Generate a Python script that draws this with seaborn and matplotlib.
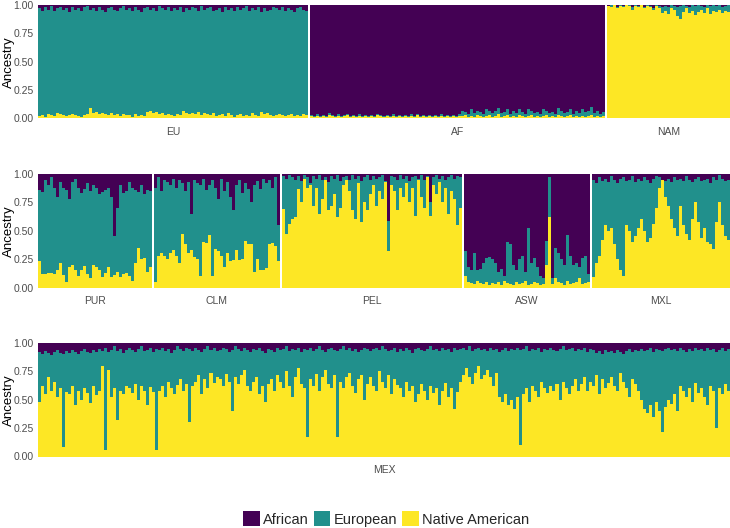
import numpy as np
import pandas as pd
import matplotlib
matplotlib.use("Agg")
import matplotlib.pyplot as plt
from matplotlib.patches import Patch
import seaborn as sns

# ancestry proportions per individual
# (native = yellow share, african = purple share, european = the rest)
groups = ["African", "European", "Native American"]
palette = {"African": "#440154", "European": "#21908C", "Native American": "#FDE725"}

eu_nat = [0.02, 0.03, 0.01, 0.04, 0.03, 0.02, 0.05, 0.04, 0.03, 0.02,
          0.03, 0.04, 0.03, 0.02, 0.01, 0.03, 0.04, 0.09, 0.05, 0.06,
          0.04, 0.05, 0.04, 0.03, 0.05, 0.03, 0.04, 0.02, 0.04, 0.03,
          0.03, 0.01, 0.04, 0.02, 0.03, 0.02, 0.06, 0.07, 0.05, 0.06,
          0.04, 0.05, 0.03, 0.04, 0.03, 0.02, 0.04, 0.03, 0.07, 0.05,
          0.04, 0.05, 0.04, 0.06, 0.03, 0.05, 0.04, 0.03, 0.05, 0.02,
          0.03, 0.04, 0.02, 0.05, 0.03, 0.01, 0.03, 0.04, 0.02, 0.03,
          0.02, 0.05, 0.03, 0.02, 0.06, 0.04, 0.05, 0.03, 0.02, 0.03,
          0.04, 0.03, 0.02, 0.03, 0.04, 0.02, 0.03, 0.02, 0.04, 0.03]
eu_afr = [0.03, 0.05, 0.02, 0.04, 0.01, 0.05, 0.03, 0.02, 0.04, 0.03,
          0.06, 0.02, 0.04, 0.03, 0.05, 0.02, 0.01, 0.04, 0.03, 0.05,
          0.02, 0.04, 0.06, 0.03, 0.02, 0.04, 0.05, 0.03, 0.01, 0.04,
          0.03, 0.05, 0.02, 0.04, 0.06, 0.03, 0.02, 0.04, 0.03, 0.05,
          0.01, 0.03, 0.04, 0.02, 0.05, 0.03, 0.04, 0.02, 0.06, 0.03,
          0.04, 0.02, 0.03, 0.05, 0.01, 0.04, 0.03, 0.02, 0.05, 0.04,
          0.03, 0.06, 0.02, 0.04, 0.03, 0.05, 0.02, 0.04, 0.03, 0.01,
          0.05, 0.03, 0.04, 0.02, 0.06, 0.03, 0.05, 0.04, 0.02, 0.03,
          0.04, 0.02, 0.05, 0.03, 0.04, 0.06, 0.03, 0.02, 0.04, 0.05]

af_nat = [0.02, 0.01, 0.02, 0.01, 0.02, 0.01, 0.03, 0.02, 0.01, 0.02,
          0.01, 0.02, 0.03, 0.01, 0.02, 0.01, 0.02, 0.01, 0.02, 0.01,
          0.02, 0.01, 0.03, 0.02, 0.01, 0.02, 0.01, 0.02, 0.01, 0.02,
          0.01, 0.02, 0.01, 0.02, 0.01, 0.03, 0.01, 0.02, 0.01, 0.02,
          0.01, 0.02, 0.01, 0.02, 0.01, 0.02, 0.01, 0.02, 0.01, 0.02,
          0.02, 0.03, 0.01, 0.02, 0.01, 0.03, 0.02, 0.01, 0.02, 0.03,
          0.01, 0.02, 0.04, 0.01, 0.02, 0.03, 0.01, 0.02, 0.01, 0.03,
          0.02, 0.01, 0.02, 0.03, 0.01, 0.02, 0.01, 0.02, 0.03, 0.01,
          0.02, 0.01, 0.03, 0.02, 0.01, 0.02, 0.03, 0.01, 0.02, 0.01,
          0.02, 0.01, 0.02, 0.03, 0.01, 0.02, 0.01, 0.02]
af_afr = [0.97, 0.98, 0.96, 0.98, 0.97, 0.98, 0.95, 0.97, 0.98, 0.96,
          0.98, 0.97, 0.96, 0.98, 0.97, 0.98, 0.96, 0.98, 0.97, 0.98,
          0.97, 0.98, 0.96, 0.97, 0.98, 0.97, 0.98, 0.96, 0.98, 0.97,
          0.98, 0.97, 0.98, 0.96, 0.98, 0.96, 0.98, 0.97, 0.98, 0.97,
          0.98, 0.97, 0.98, 0.96, 0.98, 0.97, 0.98, 0.97, 0.98, 0.96,
          0.93, 0.94, 0.96, 0.92, 0.95, 0.93, 0.94, 0.96, 0.92, 0.93,
          0.95, 0.93, 0.91, 0.95, 0.94, 0.92, 0.96, 0.93, 0.95, 0.92,
          0.94, 0.96, 0.92, 0.93, 0.95, 0.94, 0.96, 0.92, 0.93, 0.95,
          0.94, 0.96, 0.91, 0.93, 0.95, 0.94, 0.92, 0.96, 0.93, 0.95,
          0.92, 0.94, 0.93, 0.90, 0.95, 0.93, 0.96, 0.94]

nam_nat = [0.99, 0.98, 1.00, 0.97, 0.99, 0.98, 1.00, 0.99, 0.96, 0.99,
           0.98, 1.00, 0.97, 0.99, 0.98, 0.96, 0.99, 0.97, 0.93, 0.95,
           0.92, 0.97, 0.96, 0.90, 0.88, 0.94, 0.97, 0.93, 0.95, 0.91,
           0.94, 0.96, 0.93, 0.97, 0.92, 0.95, 0.94, 0.96, 0.93, 0.95, 0.94]
nam_afr = [0.01, 0.00, 0.00, 0.02, 0.00, 0.01, 0.00, 0.00, 0.02, 0.00,
           0.01, 0.00, 0.02, 0.00, 0.01, 0.03, 0.00, 0.01, 0.02, 0.01,
           0.02, 0.00, 0.01, 0.02, 0.01, 0.00, 0.01, 0.02, 0.00, 0.01,
           0.00, 0.01, 0.02, 0.00, 0.01, 0.00, 0.01, 0.00, 0.02, 0.01, 0.00]

pur_nat = [0.23, 0.12, 0.12, 0.13, 0.13, 0.12, 0.15, 0.22, 0.11, 0.05,
           0.18, 0.20, 0.15, 0.10, 0.15, 0.19, 0.12, 0.08, 0.20, 0.18,
           0.15, 0.09, 0.13, 0.18, 0.09, 0.11, 0.14, 0.09, 0.12, 0.13,
           0.10, 0.06, 0.22, 0.35, 0.25, 0.26, 0.14, 0.18]
pur_afr = [0.14, 0.16, 0.05, 0.10, 0.03, 0.12, 0.20, 0.07, 0.12, 0.14,
           0.22, 0.07, 0.04, 0.12, 0.17, 0.13, 0.08, 0.15, 0.10, 0.12,
           0.18, 0.16, 0.14, 0.12, 0.20, 0.55, 0.30, 0.10, 0.17, 0.15,
           0.07, 0.12, 0.14, 0.16, 0.10, 0.18, 0.14, 0.15]

clm_nat = [0.05, 0.28, 0.30, 0.28, 0.25, 0.30, 0.33, 0.28, 0.22, 0.47,
           0.38, 0.30, 0.33, 0.27, 0.25, 0.10, 0.40, 0.39, 0.46, 0.10,
           0.34, 0.32, 0.28, 0.18, 0.30, 0.23, 0.24, 0.33, 0.24, 0.25,
           0.41, 0.38, 0.38, 0.14, 0.25, 0.15, 0.15, 0.17, 0.38, 0.39,
           0.37, 0.23]
clm_afr = [0.12, 0.03, 0.15, 0.05, 0.07, 0.10, 0.04, 0.12, 0.05, 0.08,
           0.15, 0.07, 0.35, 0.05, 0.08, 0.10, 0.04, 0.14, 0.10, 0.05,
           0.12, 0.22, 0.04, 0.15, 0.07, 0.20, 0.32, 0.10, 0.05, 0.17,
           0.08, 0.13, 0.25, 0.10, 0.06, 0.13, 0.04, 0.08, 0.05, 0.12,
           0.03, 0.45]

pel_nat = [0.69, 0.47, 0.56, 0.60, 0.62, 0.87, 0.75, 0.96, 0.88, 0.90,
           0.72, 0.88, 0.65, 0.78, 0.95, 0.68, 0.72, 0.82, 0.62, 0.70,
           0.90, 0.95, 0.85, 0.68, 0.60, 0.92, 0.58, 0.75, 0.68, 0.82,
           0.90, 0.72, 0.85, 0.78, 0.93, 0.32, 0.90, 0.85, 0.68, 0.88,
           0.80, 0.92, 0.75, 0.88, 0.63, 0.95, 0.80, 0.70, 0.97, 0.63,
           0.90, 0.82, 0.93, 0.75, 0.88, 0.65, 0.85, 0.78, 0.55, 0.70]
pel_afr = [0.02, 0.04, 0.01, 0.03, 0.05, 0.02, 0.06, 0.01, 0.03, 0.08,
           0.02, 0.04, 0.01, 0.05, 0.03, 0.07, 0.02, 0.04, 0.01, 0.06,
           0.03, 0.02, 0.05, 0.01, 0.04, 0.02, 0.06, 0.03, 0.01, 0.05,
           0.02, 0.04, 0.03, 0.01, 0.06, 0.41, 0.02, 0.03, 0.05, 0.01,
           0.04, 0.02, 0.06, 0.03, 0.02, 0.04, 0.01, 0.05, 0.02, 0.25,
           0.03, 0.01, 0.04, 0.02, 0.05, 0.03, 0.01, 0.04, 0.02, 0.03]

asw_nat = [0.10, 0.05, 0.04, 0.03, 0.06, 0.04, 0.03, 0.05, 0.02, 0.04,
           0.03, 0.05, 0.02, 0.06, 0.04, 0.03, 0.02, 0.05, 0.03, 0.04,
           0.06, 0.02, 0.03, 0.05, 0.04, 0.02, 0.03, 0.20, 0.62, 0.03,
           0.08, 0.05, 0.04, 0.02, 0.06, 0.03, 0.04, 0.05, 0.08, 0.03,
           0.04, 0.05]
asw_afr = [0.68, 0.82, 0.85, 0.70, 0.85, 0.84, 0.78, 0.74, 0.73, 0.75,
           0.78, 0.86, 0.84, 0.90, 0.60, 0.62, 0.80, 0.85, 0.75, 0.72,
           0.86, 0.48, 0.78, 0.74, 0.82, 0.90, 0.92, 0.59, 0.03, 0.92,
           0.65, 0.70, 0.75, 0.80, 0.54, 0.72, 0.80, 0.78, 0.82, 0.74,
           0.72, 0.88]

mxl_nat = [0.09, 0.22, 0.28, 0.42, 0.55, 0.50, 0.52, 0.38, 0.25, 0.15,
           0.10, 0.55, 0.50, 0.40, 0.45, 0.52, 0.60, 0.50, 0.40, 0.44,
           0.56, 0.70, 0.88, 0.95, 0.80, 0.72, 0.60, 0.52, 0.45, 0.72,
           0.55, 0.47, 0.42, 0.60, 0.75, 0.58, 0.44, 0.52, 0.40, 0.38,
           0.34, 0.58, 0.75, 0.55, 0.45, 0.42]
mxl_afr = [0.05, 0.08, 0.03, 0.06, 0.04, 0.07, 0.02, 0.05, 0.08, 0.04,
           0.03, 0.06, 0.05, 0.02, 0.07, 0.04, 0.06, 0.03, 0.05, 0.08,
           0.04, 0.02, 0.03, 0.05, 0.06, 0.04, 0.07, 0.03, 0.05, 0.04,
           0.06, 0.02, 0.05, 0.07, 0.04, 0.03, 0.06, 0.05, 0.04, 0.08,
           0.03, 0.05, 0.01, 0.04, 0.06, 0.05]

mex_nat = [0.48, 0.62, 0.55, 0.70, 0.58, 0.66, 0.52, 0.60, 0.08, 0.57,
           0.55, 0.62, 0.45, 0.58, 0.50, 0.60, 0.56, 0.47, 0.62, 0.54,
           0.58, 0.80, 0.06, 0.76, 0.52, 0.60, 0.32, 0.58, 0.55, 0.62,
           0.60, 0.56, 0.64, 0.50, 0.62, 0.58, 0.45, 0.61, 0.57, 0.06,
           0.58, 0.62, 0.52, 0.66, 0.60, 0.55, 0.63, 0.68, 0.58, 0.64,
           0.30, 0.62, 0.66, 0.72, 0.55, 0.68, 0.60, 0.74, 0.65, 0.70,
           0.68, 0.62, 0.73, 0.66, 0.40, 0.70, 0.64, 0.72, 0.76, 0.62,
           0.58, 0.66, 0.70, 0.55, 0.62, 0.48, 0.64, 0.68, 0.58, 0.72,
           0.66, 0.60, 0.75, 0.62, 0.52, 0.70, 0.78, 0.64, 0.60, 0.17,
           0.68, 0.62, 0.73, 0.58, 0.70, 0.76, 0.64, 0.60, 0.72, 0.17,
           0.66, 0.60, 0.70, 0.74, 0.62, 0.56, 0.68, 0.72, 0.50, 0.64,
           0.70, 0.62, 0.58, 0.75, 0.66, 0.60, 0.72, 0.55, 0.68, 0.63,
           0.60, 0.52, 0.66, 0.58, 0.62, 0.48, 0.55, 0.64, 0.58, 0.50,
           0.62, 0.56, 0.60, 0.45, 0.58, 0.65, 0.52, 0.60, 0.42, 0.57,
           0.66, 0.72, 0.78, 0.70, 0.64, 0.74, 0.80, 0.68, 0.72, 0.76,
           0.70, 0.62, 0.74, 0.52, 0.48, 0.55, 0.45, 0.50, 0.42, 0.52,
           0.10, 0.55, 0.60, 0.48, 0.62, 0.58, 0.52, 0.66, 0.60, 0.56,
           0.62, 0.58, 0.64, 0.50, 0.66, 0.60, 0.55, 0.62, 0.68, 0.58,
           0.64, 0.70, 0.58, 0.66, 0.62, 0.72, 0.55, 0.68, 0.60, 0.65,
           0.70, 0.62, 0.58, 0.74, 0.66, 0.60, 0.52, 0.68, 0.64, 0.58,
           0.50, 0.42, 0.38, 0.45, 0.35, 0.48, 0.40, 0.22, 0.44, 0.50,
           0.46, 0.55, 0.40, 0.62, 0.58, 0.52, 0.60, 0.48, 0.65, 0.56,
           0.60, 0.52, 0.45, 0.62, 0.58, 0.25, 0.60, 0.55, 0.64, 0.58]
mex_afr = [0.08, 0.10, 0.07, 0.09, 0.11, 0.08, 0.06, 0.09, 0.10, 0.07,
           0.09, 0.06, 0.08, 0.10, 0.07, 0.05, 0.08, 0.09, 0.06, 0.08,
           0.05, 0.07, 0.04, 0.08, 0.06, 0.03, 0.07, 0.05, 0.09, 0.06,
           0.04, 0.06, 0.08, 0.05, 0.03, 0.07, 0.06, 0.04, 0.08, 0.05,
           0.06, 0.04, 0.07, 0.05, 0.09, 0.06, 0.03, 0.05, 0.07, 0.04,
           0.05, 0.07, 0.04, 0.06, 0.08, 0.05, 0.03, 0.06, 0.04, 0.07,
           0.06, 0.04, 0.05, 0.08, 0.06, 0.03, 0.05, 0.07, 0.04, 0.06,
           0.08, 0.05, 0.06, 0.04, 0.07, 0.09, 0.05, 0.06, 0.08, 0.04,
           0.06, 0.05, 0.03, 0.07, 0.05, 0.06, 0.04, 0.08, 0.05, 0.06,
           0.04, 0.07, 0.05, 0.03, 0.06, 0.08, 0.05, 0.04, 0.06, 0.07,
           0.05, 0.03, 0.06, 0.04, 0.07, 0.05, 0.08, 0.06, 0.04, 0.05,
           0.07, 0.05, 0.04, 0.06, 0.03, 0.05, 0.07, 0.06, 0.04, 0.08,
           0.05, 0.07, 0.04, 0.06, 0.09, 0.05, 0.04, 0.06, 0.07, 0.05,
           0.03, 0.06, 0.05, 0.07, 0.04, 0.06, 0.05, 0.08, 0.04, 0.06,
           0.05, 0.04, 0.06, 0.03, 0.07, 0.05, 0.04, 0.06, 0.05, 0.07,
           0.04, 0.06, 0.05, 0.08, 0.06, 0.04, 0.07, 0.05, 0.06, 0.04,
           0.06, 0.05, 0.03, 0.07, 0.05, 0.06, 0.04, 0.08, 0.05, 0.06,
           0.04, 0.06, 0.07, 0.05, 0.03, 0.06, 0.05, 0.04, 0.07, 0.05,
           0.06, 0.04, 0.08, 0.05, 0.06, 0.09, 0.07, 0.10, 0.06, 0.08,
           0.07, 0.09, 0.06, 0.08, 0.10, 0.07, 0.05, 0.08, 0.06, 0.07,
           0.05, 0.07, 0.06, 0.04, 0.08, 0.05, 0.06, 0.07, 0.05, 0.04,
           0.06, 0.05, 0.07, 0.04, 0.06, 0.08, 0.05, 0.07, 0.04, 0.06,
           0.05, 0.07, 0.04, 0.06, 0.05, 0.08, 0.06, 0.04, 0.07, 0.05]

rows = [
    [("EU", eu_nat, eu_afr), ("AF", af_nat, af_afr), ("NAM", nam_nat, nam_afr)],
    [("PUR", pur_nat, pur_afr), ("CLM", clm_nat, clm_afr), ("PEL", pel_nat, pel_afr),
     ("ASW", asw_nat, asw_afr), ("MXL", mxl_nat, mxl_afr)],
    [("MEX", mex_nat, mex_afr)],
]


def to_long(nat, afr):
    nat = np.array(nat)
    afr = np.array(afr)
    eur = np.clip(1 - nat - afr, 0, 1)
    ind = np.arange(len(nat))
    parts = []
    for g, v in zip(groups, [afr, eur, nat]):
        parts.append(pd.DataFrame({"ind": ind, "Ancestry": g, "value": v}))
    return pd.concat(parts, ignore_index=True)


sns.set_style("white")
plt.rcParams["font.family"] = ["Liberation Sans", "DejaVu Sans"]

W, H = 730, 528
fig = plt.figure(figsize=(W / 100, H / 100), dpi=100)

left_px, right_px, gap_px = 38, 730, 2
row_tops = [5, 174, 343]
panel_h = 113.5

for row, top in zip(rows, row_tops):
    counts = [len(p[1]) for p in row]
    avail = (right_px - left_px) - gap_px * (len(row) - 1)
    x0 = left_px
    for k, (name, nat, afr) in enumerate(row):
        w = avail * counts[k] / sum(counts)
        ax = fig.add_axes([x0 / W, 1 - (top + panel_h) / H, w / W, panel_h / H])
        df = to_long(nat, afr)
        sns.histplot(data=df, x="ind", weights="value", hue="Ancestry",
                     hue_order=groups, palette=palette, multiple="stack",
                     discrete=True, shrink=1, alpha=1, linewidth=0,
                     antialiased=False, legend=False, ax=ax)
        ax.set_xlim(-0.5, len(nat) - 0.5)
        ax.set_ylim(0, 1)
        ax.set_xticks([])
        ax.set_xlabel(name, fontsize=7.5, color="#4D4D4D", labelpad=6)
        for s in ax.spines.values():
            s.set_visible(False)
        if k == 0:
            ax.set_yticks([0, 0.25, 0.5, 0.75, 1.0])
            ax.set_yticklabels(["0.00", "0.25", "0.50", "0.75", "1.00"])
            ax.tick_params(axis="y", length=0, labelsize=7.5, labelcolor="#4D4D4D", pad=3)
            ax.set_ylabel("Ancestry", fontsize=9.5, color="black")
            ax.yaxis.set_label_coords((15 - x0) / w, 0.5)
        else:
            ax.set_yticks([])
            ax.set_ylabel("")
        x0 += w + gap_px

handles = [Patch(facecolor=palette[g], edgecolor="none", label=g) for g in groups]
fig.legend(handles=handles, loc="center", bbox_to_anchor=(0.529, 0.017), ncol=3,
           frameon=False, fontsize=10.5, handlelength=1.15, handleheight=1.15,
           handletextpad=0.25, columnspacing=0.3)

fig.savefig("out.png", dpi=100, facecolor="white")
